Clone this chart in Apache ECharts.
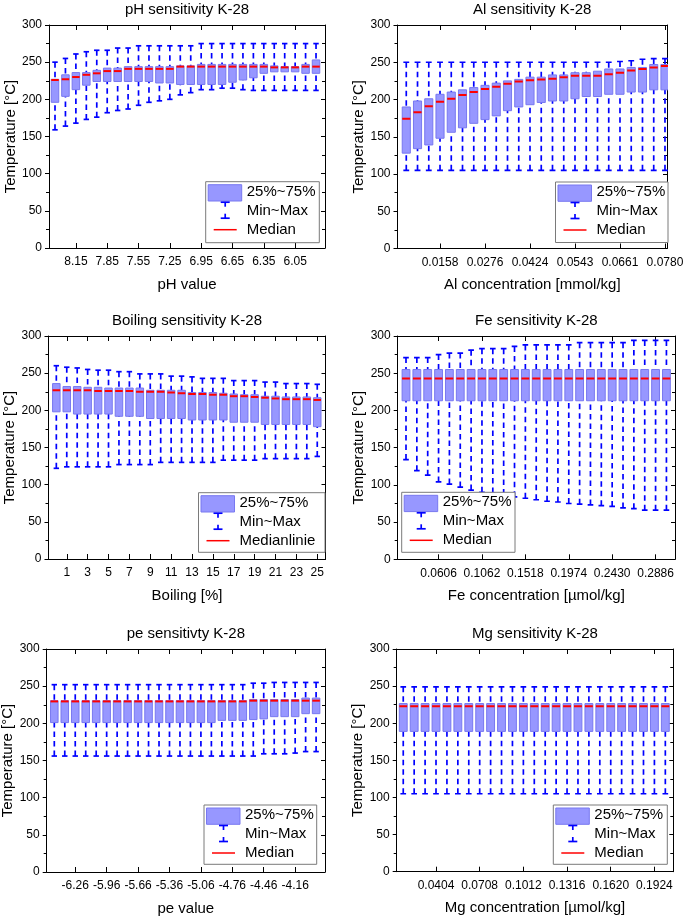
<!DOCTYPE html>
<html><head><meta charset="utf-8">
<script src="https://cdn.jsdelivr.net/npm/echarts@6/dist/echarts.min.js"></script>
<style>html,body{margin:0;padding:0;background:#fff}#c{width:685px;height:917px}</style>
</head><body><div id="c"></div>
<script>
// ---------- DATA ----------
// pH sensitivity (26 boxes)
const phMin = [159,164,168,173,176,182,185,187,192,196,198,200,206,209,213,213,215,215,213,212,212,212,212,212,212,212];
const phQ1  = [196,204,213,219,224,224,224,224,224,224,222,222,220,220,220,220,220,223,226,229,235,237,237,237,235,235];
const phMed = [226,227,230,233,235,238,238,241,241,241,241,241,244,244,244,244,244,244,244,244,244,243,243,243,244,244];
const phQ3  = [227,233,236,236,239,242,242,244,244,244,244,244,245,245,247,247,247,247,247,247,247,245,244,244,247,253];
const phMax = [250,255,261,264,266,266,269,269,272,272,272,272,272,272,275,275,275,275,275,275,275,275,275,275,275,275];
const phTickAt = [2,5,8,11,14,17,20,23];
const phTickLabels = ['8.15','7.85','7.55','7.25','6.95','6.65','6.35','6.05'];

// Al sensitivity (24 boxes)
const alMin = [105,105,105,105,105,105,105,105,105,105,105,105,105,105,105,105,105,105,105,105,105,105,105,105];
const alQ1  = [128,134,139,148,156,162,168,173,178,185,190,193,196,198,198,201,204,204,207,207,210,210,213,213];
const alMed = [174,183,191,197,201,206,210,214,217,221,224,226,227,228,230,232,232,232,234,236,239,241,243,245];
const alQ3  = [190,198,201,207,210,213,216,219,222,225,227,230,230,233,233,236,236,238,241,241,243,243,247,247];
const alMax = [250,250,250,250,250,250,250,250,250,250,250,250,250,250,250,250,250,250,250,251,252,254,255,255];
const alTickAt = [3,7,11,15,19,23];
const alTickLabels = ['0.0158','0.0276','0.0424','0.0543','0.0661','0.0780'];

// Boiling sensitivity (26 boxes)
const boMin = [122,124,124,124,124,124,127,127,127,127,130,130,130,130,130,130,133,133,133,133,135,135,135,135,135,138];
const boQ1  = [198,198,195,195,195,195,192,192,192,189,189,189,189,187,187,187,187,184,184,184,181,181,181,181,181,178];
const boMed = [227,227,227,227,226,226,226,226,225,225,225,224,223,222,222,221,221,219,219,218,217,216,215,215,215,214];
const boQ3  = [236,232,232,231,231,230,230,230,230,227,227,227,227,224,224,224,223,222,221,221,219,219,218,218,218,217];
const boMax = [260,258,257,255,254,254,252,252,249,249,249,246,246,245,243,243,243,240,240,240,238,238,236,236,236,235];
const boTickAt = [1,3,5,7,9,11,13,15,17,19,21,23,25];
const boTickLabels = ['1','3','5','7','9','11','13','15','17','19','21','23','25'];

// Fe sensitivity (25 boxes)
const feMin = [134,119,113,104,101,97,93,90,89,87,84,82,80,78,77,75,74,73,72,71,69,68,66,66,66];
const feQ1  = [213,213,213,213,213,213,213,213,213,213,213,213,213,213,213,213,213,213,213,213,213,213,213,213,213];
const feMed = [243,243,243,243,243,243,243,243,243,243,243,243,243,243,243,243,243,243,243,243,243,243,243,243,243];
const feQ3  = [255,255,255,255,255,255,255,255,255,255,255,255,255,255,255,255,255,255,255,255,255,255,255,255,255];
const feMax = [271,271,271,275,277,277,281,283,283,283,286,288,288,288,288,288,291,291,291,291,291,294,294,294,294];
const feTickAt = [3,7,11,15,19,23];
const feTickLabels = ['0.0606','0.1062','0.1518','0.1974','0.2430','0.2886'];

// pe sensitivity (26 boxes)
const peMin = [156,156,156,156,156,156,156,156,156,156,156,156,156,156,156,156,156,156,156,156,159,159,159,160,162,162];
const peQ1  = [201,201,201,201,201,201,201,201,201,201,201,201,201,201,201,201,204,204,204,205,206,209,209,209,213,213];
const peMed = [229.5,229.5,229.5,229.5,229.5,229.5,229.5,229.5,229.5,229.5,229.5,229.5,229.5,229.5,229.5,229.5,229.5,229.5,229.5,230.5,230.5,230.5,230.5,230.5,230.5,230.5];
const peQ3  = [230.5,230.5,230.5,230.5,230.5,230.5,230.5,230.5,230.5,230.5,230.5,230.5,230.5,230.5,230.5,230.5,230.5,230.5,230.5,232,232,232,232,232,234,234];
const peMax = [252,252,252,252,252,252,252,252,252,252,252,252,252,252,252,252,252,252,252,254,254,255,255,255,255,255];
const peTickAt = [2,5,8,11,14,17,20,23];
const peTickLabels = ['-6.26','-5.96','-5.66','-5.36','-5.06','-4.76','-4.46','-4.16'];

// Mg sensitivity (25 boxes)
const mgMin = [105,105,105,105,105,105,105,105,105,105,105,105,105,105,105,105,105,105,105,105,105,105,105,105,105];
const mgQ1  = [189,189,189,189,189,189,189,189,189,189,189,189,189,189,189,189,189,189,189,189,189,189,189,189,189];
const mgMed = [223,223,223,223,223,223,223,223,223,223,223,223,223,223,223,223,223,223,223,223,223,223,223,223,223];
const mgQ3  = [226.5,226.5,226.5,226.5,226.5,226.5,226.5,226.5,226.5,226.5,226.5,226.5,226.5,226.5,226.5,226.5,226.5,226.5,226.5,226.5,226.5,226.5,226.5,226.5,226.5];
const mgMax = [249,249,249,249,249,249,249,249,249,249,249,249,249,249,249,249,249,249,249,249,249,249,249,249,249];
const mgTickAt = [3,7,11,15,19,23];
const mgTickLabels = ['0.0404','0.0708','0.1012','0.1316','0.1620','0.1924'];

const yTicks = [0,50,100,150,200,250,300];

// ---------- LAYOUT ----------
const FONT = '"Liberation Sans", Arial, Helvetica, sans-serif';
const panels = [
  {title:'pH sensitivity K-28', xName:'pH value', medName:'Median',
   d:[phMin,phQ1,phMed,phQ3,phMax], at:phTickAt, lab:phTickLabels,
   g:[49,25,276,223], xr:[-0.575,25.86], lg:[205.7,181.7,113.6,61]},
  {title:'Al sensitivity K-28', xName:'Al concentration [mmol/kg]', medName:'Median',
   d:[alMin,alQ1,alMed,alQ3,alMax], at:alTickAt, lab:alTickLabels,
   g:[397.5,25,269.5,223.5], xr:[-0.78,23.18], lg:[555.5,182,112.5,60.5]},
  {title:'Boiling sensitivity K-28', xName:'Boiling [%]', medName:'Medianlinie',
   d:[boMin,boQ1,boMed,boQ3,boMax], at:boTickAt, lab:boTickLabels,
   g:[48.5,336,277,223], xr:[-0.75,25.79], lg:[198.5,492.7,126.5,59.6]},
  {title:'Fe sensitivity K-28', xName:'Fe concentration [µmol/kg]', medName:'Median',
   d:[feMin,feQ1,feMed,feQ3,feMax], at:feTickAt, lab:feTickLabels,
   g:[397.7,336,277.3,223.3], xr:[-0.765,24.79], lg:[401.7,492.3,113.3,60]},
  {title:'pe sensitivty K-28', xName:'pe value', medName:'Median',
   d:[peMin,peQ1,peMed,peQ3,peMax], at:peTickAt, lab:peTickLabels,
   g:[46.7,649,278.3,223], xr:[-0.726,25.85], lg:[204,805,112.7,59.3]},
  {title:'Mg sensitivity K-28', xName:'Mg concentration [µmol/kg]', medName:'Median',
   d:[mgMin,mgQ1,mgMed,mgQ3,mgMax], at:mgTickAt, lab:mgTickLabels,
   g:[396.7,649,276.6,222.7], xr:[-0.60,24.73], lg:[553.3,805,114,59.3]}
];

const BLUE = '#0000ff';
function renderBox(params, api){
  const x = api.value(0);
  const pMin = api.coord([x, api.value(1)]);
  const pQ1 = api.coord([x, api.value(2)]);
  const pMed = api.coord([x, api.value(3)]);
  const pQ3 = api.coord([x, api.value(4)]);
  const pMax = api.coord([x, api.value(5)]);
  const step = api.size([1, 0])[0];
  const bw = step * 0.72, cw = step * 0.52;
  const cx = pMed[0];
  const dash = {stroke:BLUE, lineWidth:1.7, lineDash:[5.5,4], fill:null};
  const solid = {stroke:BLUE, lineWidth:1.7, fill:null};
  return {type:'group', children:[
    {type:'line', shape:{x1:cx,y1:pMax[1],x2:cx,y2:pQ3[1]}, style:dash},
    {type:'line', shape:{x1:cx,y1:pMin[1],x2:cx,y2:pQ1[1]}, style:dash},
    {type:'rect', shape:{x:cx-bw/2, y:pQ3[1], width:bw, height:pQ1[1]-pQ3[1]}, style:{fill:'#9797ff', stroke:'#7878f0', lineWidth:1}},
    {type:'line', shape:{x1:cx-bw/2,y1:pMed[1],x2:cx+bw/2,y2:pMed[1]}, style:{stroke:'#ff0000', lineWidth:2}},
    {type:'line', shape:{x1:cx-cw/2,y1:pMax[1],x2:cx+cw/2,y2:pMax[1]}, style:solid},
    {type:'line', shape:{x1:cx-cw/2,y1:pMin[1],x2:cx+cw/2,y2:pMin[1]}, style:solid}
  ]};
}

const grid = [], xAxis = [], yAxis = [], series = [], title = [], graphics = [];
const axisLineStyle = {color:'#000', width:1};
panels.forEach((p, i) => {
  const [l, t, w, h] = p.g;
  grid.push({left:l, top:t, width:w, height:h, containLabel:false, outerBoundsMode:'none'});
  const labMap = {};
  p.at.forEach((v, k) => { labMap[v] = p.lab[k]; });
  xAxis.push({gridIndex:i, type:'value', position:'bottom', min:p.xr[0], max:p.xr[1],
    name:p.xName, nameLocation:'middle', nameGap:29, nameMoveOverlap:false,
    nameTextStyle:{fontSize:15, color:'#000', fontFamily:FONT},
    axisLine:{show:true, onZero:false, lineStyle:axisLineStyle},
    axisTick:{show:true, inside:true, length:5, customValues:p.at, lineStyle:axisLineStyle},
    axisLabel:{show:true, customValues:p.at, formatter:(v)=>labMap[Math.round(v)] ?? '', margin:8, fontSize:12, color:'#000', fontFamily:FONT, hideOverlap:false},
    splitLine:{show:false}, minorTick:{show:false}});
  xAxis.push({gridIndex:i, type:'value', position:'top', min:p.xr[0], max:p.xr[1],
    axisLine:{show:true, onZero:false, lineStyle:axisLineStyle},
    axisTick:{show:true, inside:true, length:5, customValues:p.at, lineStyle:axisLineStyle},
    axisLabel:{show:false}, splitLine:{show:false}});
  yAxis.push({gridIndex:i, type:'value', position:'left', min:0, max:300, interval:50,
    name:'Temperature [°C]', nameLocation:'middle', nameGap:31, nameMoveOverlap:false,
    nameTextStyle:{fontSize:15, color:'#000', fontFamily:FONT},
    axisLine:{show:true, onZero:false, lineStyle:axisLineStyle},
    axisTick:{show:true, inside:false, length:4, lineStyle:axisLineStyle},
    minorTick:{show:true, splitNumber:2, length:3, lineStyle:{color:'#000'}},
    axisLabel:{show:true, margin:7, fontSize:12, color:'#000', fontFamily:FONT, formatter:(v)=> yTicks.includes(v) ? String(v) : ''},
    splitLine:{show:false}});
  yAxis.push({gridIndex:i, type:'value', position:'right', min:0, max:300, interval:50,
    axisLine:{show:true, onZero:false, lineStyle:axisLineStyle},
    axisTick:{show:true, inside:true, length:4, lineStyle:axisLineStyle},
    minorTick:{show:true, splitNumber:2, length:3, lineStyle:{color:'#000'}},
    axisLabel:{show:false}, splitLine:{show:false}});
  const [mn, q1, md, q3, mx] = p.d;
  series.push({type:'custom', name:'25%~75%', xAxisIndex:i*2, yAxisIndex:i*2, clip:true,
    renderItem:renderBox, encode:{x:0, y:[1,2,3,4,5]},
    data: mn.map((v, k) => [k, mn[k], q1[k], md[k], q3[k], mx[k]]), silent:true, animation:false});
  title.push({text:p.title, left:l + w/2, top:t - 23, textAlign:'center', padding:0,
    textStyle:{fontSize:15, fontWeight:'normal', color:'#000', fontFamily:FONT}});
  // legend box
  const [lx, ly, lw, lh] = p.lg;
  const ix = lx + 19.5;
  graphics.push(
    {type:'rect', z:100, shape:{x:lx, y:ly, width:lw, height:lh}, style:{fill:'#fff', stroke:'#7a7a7a', lineWidth:1}},
    {type:'rect', z:101, shape:{x:lx+2.5, y:ly+3, width:33.5, height:16.3}, style:{fill:'#9797ff', stroke:'#7878f0', lineWidth:1}},
    {type:'line', z:101, shape:{x1:ix-4.5, y1:ly+20.5, x2:ix+4.5, y2:ly+20.5}, style:{stroke:BLUE, lineWidth:1.7}},
    {type:'line', z:101, shape:{x1:ix, y1:ly+20.5, x2:ix, y2:ly+25}, style:{stroke:BLUE, lineWidth:1.7}},
    {type:'line', z:101, shape:{x1:ix-4.5, y1:ly+36.5, x2:ix+4.5, y2:ly+36.5}, style:{stroke:BLUE, lineWidth:1.7}},
    {type:'line', z:101, shape:{x1:ix, y1:ly+32, x2:ix, y2:ly+36.5}, style:{stroke:BLUE, lineWidth:1.7}},
    {type:'line', z:101, shape:{x1:lx+8, y1:ly+48, x2:lx+31, y2:ly+48}, style:{stroke:'#ff0000', lineWidth:1.5}}
  );
  [['25%~75%', 10], ['Min~Max', 29], [p.medName, 48]].forEach(([txt, dy]) => {
    graphics.push({type:'text', z:102, x:lx+41, y:ly+dy,
      style:{text:txt, fill:'#000', fontSize:15, fontFamily:FONT, verticalAlign:'middle', textVerticalAlign:'middle', align:'left'}});
  });
});

const chart = echarts.init(document.getElementById('c'), null, {renderer:'canvas'});
chart.setOption({
  animation:false,
  backgroundColor:'#fff',
  title, grid, xAxis, yAxis, series,
  graphic:{elements:graphics}
});
</script>
</body></html>
